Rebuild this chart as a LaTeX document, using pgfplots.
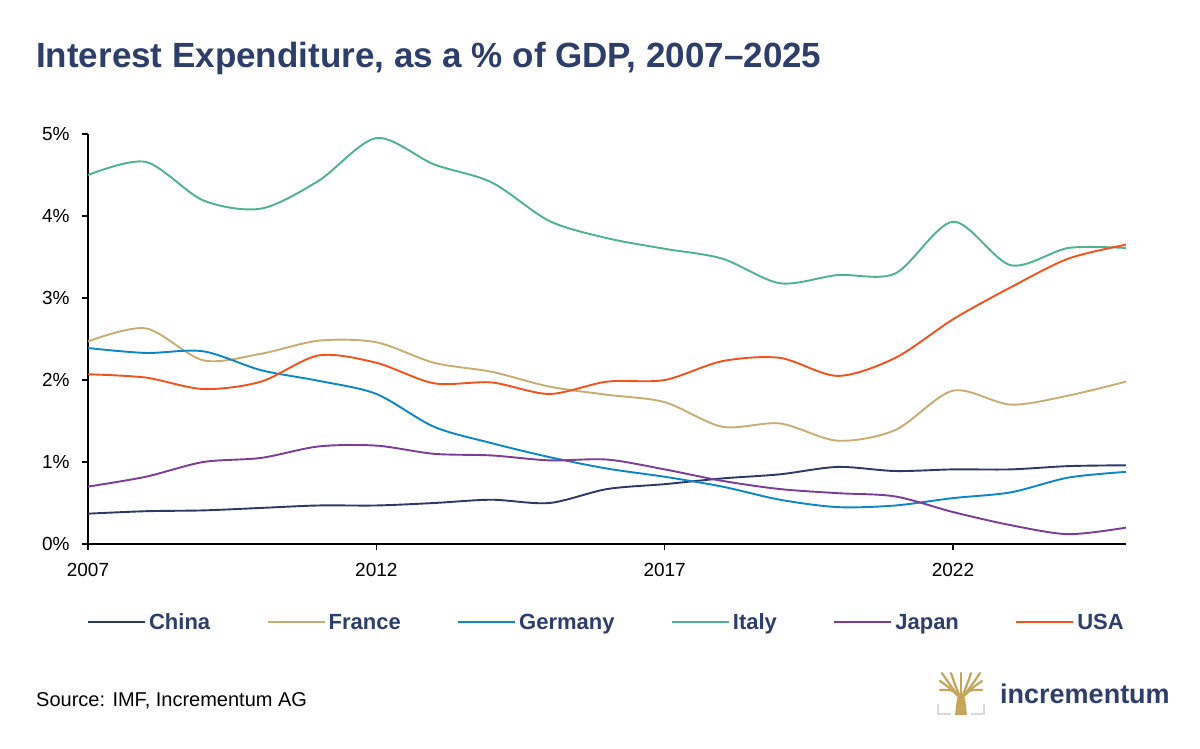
\documentclass[border=0pt]{standalone}
\usepackage{fontspec}
\setmainfont{Liberation Sans}
\usepackage{pgfplots}
\usepackage{pgfplotstable}
\pgfplotsset{compat=1.18}
\definecolor{navy}{HTML}{2D3E6B}
\definecolor{cChina}{HTML}{2B3A67}
\definecolor{cFrance}{HTML}{C8AD72}
\definecolor{cGermany}{HTML}{0C86C4}
\definecolor{cItaly}{HTML}{4DB38E}
\definecolor{cJapan}{HTML}{7D3C98}
\definecolor{cUSA}{HTML}{F2521C}
\definecolor{gold}{HTML}{C5A55A}
\definecolor{lgray}{HTML}{D9D9D9}
\pgfplotstableread{
year China France Germany Italy Japan USA
2007 0.37 2.47 2.39 4.50 0.70 2.07
2008 0.40 2.63 2.33 4.66 0.82 2.03
2009 0.41 2.24 2.35 4.19 1.00 1.89
2010 0.44 2.32 2.12 4.09 1.05 1.98
2011 0.47 2.48 1.99 4.43 1.19 2.30
2012 0.47 2.46 1.83 4.95 1.20 2.21
2013 0.50 2.21 1.43 4.63 1.10 1.96
2014 0.54 2.10 1.23 4.41 1.08 1.97
2015 0.50 1.92 1.06 3.94 1.02 1.83
2016 0.67 1.82 0.92 3.73 1.03 1.98
2017 0.73 1.73 0.82 3.60 0.91 2.00
2018 0.80 1.43 0.70 3.48 0.77 2.23
2019 0.85 1.47 0.54 3.18 0.67 2.27
2020 0.94 1.26 0.45 3.28 0.62 2.05
2021 0.89 1.39 0.47 3.30 0.58 2.27
2022 0.91 1.87 0.56 3.93 0.39 2.74
2023 0.91 1.70 0.63 3.40 0.23 3.13
2024 0.95 1.81 0.81 3.61 0.12 3.48
2025 0.96 1.98 0.88 3.61 0.20 3.65
}\data
\begin{document}
\begin{tikzpicture}
\path[use as bounding box] (0pt,0pt) rectangle (1200pt,-748pt);
\node[anchor=base west, inner sep=0pt, text=navy, font=\fontsize{35}{42}\selectfont\bfseries] at (36pt,-67pt) {Interest Expenditure, as a \% of GDP, 2007–2025};
\begin{axis}[
  at={(88pt,-544pt)}, anchor=south west,
  scale only axis, width=1038pt, height=410pt,
  xmin=2007, xmax=2025, ymin=0, ymax=5,
  axis x line=bottom, axis y line=left,
  axis line style={-, line width=1.6pt, black},
  tick align=outside, major tick length=6pt,
  tick style={line width=1.4pt, black},
  xtick={2007,2012,2017,2022}, xticklabels={2007,2012,2017,2022},
  ytick={0,1,2,3,4,5}, yticklabels={0\%,1\%,2\%,3\%,4\%,5\%},
  ticklabel style={font=\fontsize{19}{22}\selectfont},
  yticklabel style={xshift=-9pt},
  xticklabel style={yshift=-10pt},
  every axis plot/.append style={line width=1.9pt, smooth, tension=0.5, no markers},
  legend columns=6,
  legend style={at={(0.5,-0.195)}, anchor=center, draw=none, fill=none,
    font=\fontsize{22}{26}\selectfont\bfseries, text=navy,
    nodes={inner xsep=3pt, inner ysep=0pt, text height=16pt, text depth=5pt},
    /tikz/every even column/.append style={column sep=53.5pt}},
  legend image code/.code={\draw[#1, line width=1.9pt] (0pt,2pt) -- (57pt,2pt);},
  clip=false,
]
\addplot[cChina] table[x=year,y=China]{\data};
\addlegendentry{China}
\addplot[cFrance] table[x=year,y=France]{\data};
\addlegendentry{France}
\addplot[cGermany] table[x=year,y=Germany]{\data};
\addlegendentry{Germany}
\addplot[cItaly] table[x=year,y=Italy]{\data};
\addlegendentry{Italy}
\addplot[cJapan] table[x=year,y=Japan]{\data};
\addlegendentry{Japan}
\addplot[cUSA] table[x=year,y=USA]{\data};
\addlegendentry{USA}
\end{axis}
\node[anchor=base west, inner sep=0pt, font=\fontsize{20}{24}\selectfont] at (36pt,-706pt) {Source: IMF, Incrementum AG};
% logo
\draw[lgray, line width=2.5pt] (938pt,-704pt) -- (938pt,-714pt) -- (951pt,-714pt);
\draw[lgray, line width=2.5pt] (984pt,-704pt) -- (984pt,-714pt) -- (971pt,-714pt);
\fill[gold] (955pt,-715pt) -- (957pt,-698pt) -- (965pt,-698pt) -- (967pt,-715pt) -- cycle;
\begin{scope}[gold, line width=2.2pt, line cap=round]
\draw (961pt,-699pt) .. controls (955pt,-690pt) .. (940pt,-690pt);
\draw (961pt,-699pt) .. controls (967pt,-690pt) .. (982pt,-690pt);
\draw (961pt,-699pt) .. controls (950pt,-688pt) .. (940pt,-681pt);
\draw (961pt,-699pt) .. controls (972pt,-688pt) .. (982pt,-681pt);
\draw (961pt,-699pt) .. controls (950pt,-685pt) .. (942pt,-673pt);
\draw (961pt,-699pt) .. controls (972pt,-685pt) .. (980pt,-673pt);
\draw (961pt,-699pt) .. controls (955pt,-685pt) .. (951pt,-673pt);
\draw (961pt,-699pt) .. controls (967pt,-685pt) .. (971pt,-673pt);
\draw (961pt,-699pt) -- (961pt,-673pt);
\end{scope}
\node[anchor=base west, inner sep=0pt, text=navy, font=\fontsize{27}{30}\selectfont\bfseries] at (1000pt,-703pt) {incrementum};
\end{tikzpicture}
\end{document}
